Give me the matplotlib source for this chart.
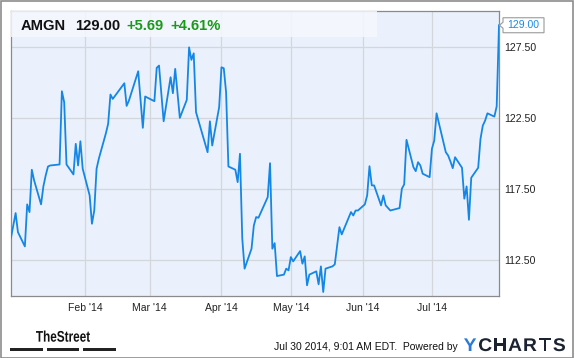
import matplotlib
matplotlib.use("Agg")
import matplotlib.pyplot as plt
import matplotlib.dates as mdates
from matplotlib.patches import Rectangle, Polygon, PathPatch
from matplotlib.textpath import TextPath
from matplotlib.font_manager import FontProperties
from matplotlib.transforms import Affine2D, IdentityTransform
import pandas as pd

plt.rcParams['font.family'] = ['Liberation Sans', 'DejaVu Sans']

# ---------------- data ----------------
dates = [
    "2013-12-31", "2014-01-02", "2014-01-03", "2014-01-06", "2014-01-07", "2014-01-08",
    "2014-01-09", "2014-01-10", "2014-01-13", "2014-01-14", "2014-01-15", "2014-01-16",
    "2014-01-17", "2014-01-21", "2014-01-22", "2014-01-23", "2014-01-24", "2014-01-27",
    "2014-01-28", "2014-01-29", "2014-01-30", "2014-01-31", "2014-02-03", "2014-02-04",
    "2014-02-05", "2014-02-06", "2014-02-07", "2014-02-10", "2014-02-11", "2014-02-12",
    "2014-02-13", "2014-02-18", "2014-02-19", "2014-02-20", "2014-02-24", "2014-02-26",
    "2014-02-27", "2014-03-03", "2014-03-04", "2014-03-05", "2014-03-07", "2014-03-10",
    "2014-03-11", "2014-03-12", "2014-03-14", "2014-03-17", "2014-03-18", "2014-03-19",
    "2014-03-20", "2014-03-21", "2014-03-26", "2014-03-27", "2014-03-28", "2014-03-31",
    "2014-04-01", "2014-04-02", "2014-04-03", "2014-04-04", "2014-04-07", "2014-04-08",
    "2014-04-09", "2014-04-10", "2014-04-11", "2014-04-14", "2014-04-15", "2014-04-16",
    "2014-04-17", "2014-04-21", "2014-04-22", "2014-04-23", "2014-04-24", "2014-04-25",
    "2014-04-28", "2014-04-29", "2014-04-30", "2014-05-01", "2014-05-02", "2014-05-05",
    "2014-05-06", "2014-05-07", "2014-05-08", "2014-05-09", "2014-05-12", "2014-05-13",
    "2014-05-14", "2014-05-15", "2014-05-16", "2014-05-19", "2014-05-20", "2014-05-21",
    "2014-05-22", "2014-05-23", "2014-05-27", "2014-05-28", "2014-05-29", "2014-05-30",
    "2014-06-02", "2014-06-03", "2014-06-04", "2014-06-05", "2014-06-06", "2014-06-09",
    "2014-06-10", "2014-06-11", "2014-06-13", "2014-06-17", "2014-06-18", "2014-06-19",
    "2014-06-20", "2014-06-23", "2014-06-24", "2014-06-25", "2014-06-26", "2014-06-27",
    "2014-06-30", "2014-07-01", "2014-07-02", "2014-07-03", "2014-07-07", "2014-07-08",
    "2014-07-09", "2014-07-10", "2014-07-11", "2014-07-14", "2014-07-15", "2014-07-16",
    "2014-07-17", "2014-07-18", "2014-07-21", "2014-07-22", "2014-07-23", "2014-07-24",
    "2014-07-25", "2014-07-28", "2014-07-29", "2014-07-30",
]
prices = [
    114.09, 115.82, 114.48, 113.48, 116.43, 115.89,
    118.86, 118.11, 116.43, 117.69, 118.46, 119.09,
    119.16, 119.23, 124.37, 123.60, 119.23, 118.53,
    120.68, 119.16, 120.86, 118.93, 117.06, 115.07,
    116.00, 118.93, 119.65, 121.40, 122.08, 124.14,
    123.83, 124.93, 123.34, 123.72, 125.77, 121.80,
    124.00, 123.67, 126.01, 126.17, 122.26, 125.35,
    124.23, 125.94, 122.50, 123.76, 127.45, 126.57,
    127.03, 122.90, 120.09, 122.26, 120.56, 123.25,
    126.05, 125.98, 124.30, 119.09, 118.86, 117.99,
    119.98, 114.02, 111.92, 113.32, 114.95, 115.54,
    115.49, 116.94, 119.32, 113.32, 113.71, 111.40,
    111.50, 111.92, 111.80, 112.73, 112.43, 113.15,
    112.27, 112.78, 110.75, 111.50, 111.73, 110.82,
    112.08, 110.28, 111.92, 112.08, 112.22, 113.55,
    114.83, 114.32, 115.89, 115.65, 116.00, 116.00,
    116.43, 117.06, 119.11, 117.76, 117.76, 116.36,
    117.06, 116.36, 116.00, 116.17, 117.53, 117.83,
    120.96, 119.04, 118.76, 119.39, 119.16, 118.58,
    118.34, 120.33, 120.91, 122.82, 120.09, 119.86,
    119.44, 118.97, 119.74, 119.00, 116.83, 117.69,
    115.35, 118.30, 119.00, 121.03, 121.96, 122.31,
    122.82, 122.59, 123.31, 129.00,
]
ticker = "AMGN"
last_price = "129.00"
change = "+5.69"
change_pct = "+4.61%"
y_ticks = [112.5, 117.5, 122.5, 127.5]
x_tick_dates = ["2014-02-01", "2014-03-01", "2014-04-01", "2014-05-01", "2014-06-01", "2014-07-01"]
x_tick_labels = ["Feb '14", "Mar '14", "Apr '14", "May '14", "Jun '14", "Jul '14"]
timestamp = "Jul 30 2014, 9:01 AM EDT.  Powered by"
brand_left = "TheStreet"
brand_right = "YCHARTS"

# ---------------- figure ----------------
W, H = 575, 358
fig = plt.figure(figsize=(W / 100, H / 100), dpi=100)
fig.patch.set_facecolor("white")

def fx(px):
    return px / W

def fy(py):
    return 1 - py / H

# outer border
fig.add_artist(Rectangle((fx(0.5), fy(357.5)), fx(572), 357 / H,
                         transform=fig.transFigure, fill=False,
                         edgecolor="#8c8c8c", linewidth=1.2))

L, R, T, B = 11, 499, 11, 296
ax = fig.add_axes([fx(L), fy(B), fx(R - L), (B - T) / H])
ax.set_facecolor("#eaf1fc")

x = pd.to_datetime(dates)
ax.plot(x, prices, color="#1487e6", linewidth=1.3, solid_joinstyle="round", zorder=3)

ax.set_xlim(x[0], x[-1])
ax.set_ylim(110, 130)

ax.set_yticks(y_ticks)
ax.set_yticklabels([f"{v:.2f}" for v in y_ticks])
ax.yaxis.tick_right()
ax.tick_params(axis="y", length=0, pad=4, labelsize=7.6, labelcolor="#222222")

ax.set_xticks(pd.to_datetime(x_tick_dates))
ax.set_xticklabels(x_tick_labels)
ax.tick_params(axis="x", length=0, pad=5, labelsize=7.5, labelcolor="#222222")

ax.grid(True, color="#d3d6da", linewidth=0.9, zorder=0)
ax.set_axisbelow(True)
for s in ax.spines.values():
    s.set_color("#8a8a8a")
    s.set_linewidth(0.9)

# header box
ax.add_patch(Rectangle((0, 1 - 25.5 / (B - T)), (377 - L) / (R - L), 25.5 / (B - T),
                       transform=ax.transAxes, facecolor="#f5f8fe", edgecolor="none",
                       alpha=0.85, zorder=4))
hy = fy(29.5)
fig.text(fx(20.5), hy, ticker, fontsize=10.6, fontweight="bold", color="#111111", va="baseline")
fig.text(fx(75), hy, last_price, fontsize=10.6, fontweight="bold", color="#111111", va="baseline")
fig.text(fx(126), hy, change, fontsize=10.6, fontweight="bold", color="#1a9a1a", va="baseline")
fig.text(fx(170.5), hy, change_pct, fontsize=10.6, fontweight="bold", color="#1a9a1a", va="baseline")

# price tag with arrow
fig.canvas.draw()
px_last, py_last = ax.transData.transform((mdates.date2num(x[-1]), prices[-1]))
ytop = H - py_last  # pixel from top
bx0, bx1 = 503, 544
poly = [(bx0, ytop - 7.5), (bx1, ytop - 7.5), (bx1, ytop + 7.5), (bx0, ytop + 7.5),
        (bx0, ytop + 3), (bx0 - 3.5, ytop), (bx0, ytop - 3)]
fig.add_artist(Polygon([(fx(a), fy(b)) for a, b in poly], closed=True,
                       transform=fig.transFigure, facecolor="white",
                       edgecolor="#9a9a9a", linewidth=0.8))
fig.text(fx(523.5), fy(ytop), last_price, fontsize=7.6, color="#1a8ae6",
         ha="center", va="center")

bold = FontProperties(family="Liberation Sans", weight="bold")

# footer: TheStreet logo (condensed bold, drawn as a path fitted to its box)
tp = TextPath((0, 0), brand_left, size=20, prop=bold)
ext = tp.get_extents()
bx_l, bx_r, by_top, by_bot = 36, 90, 330.5, 341.8
sx = (bx_r - bx_l) / ext.width
sy = (by_bot - by_top) / ext.height
tr = Affine2D().translate(-ext.x0, -ext.y0).scale(sx, sy).translate(bx_l, H - by_bot)
fig.add_artist(PathPatch(tr.transform_path(tp), transform=IdentityTransform(),
                         facecolor="#111111", edgecolor="none"))
for a, b in [(10, 43), (47, 79), (83, 116)]:
    fig.add_artist(Rectangle((fx(a), fy(350.5)), fx(b - a), 3 / H,
                             transform=fig.transFigure, facecolor="#222222",
                             edgecolor="none"))

# footer: timestamp
fig.text(fx(458), fy(349.5), timestamp, fontsize=7.5, color="#111111",
         ha="right", va="baseline")

# footer: YCHARTS wordmark, letters spaced to fill its box
yl, yr, ytop_px, ybot_px = 464, 565, 338, 351
paths = [TextPath((0, 0), ch, size=20, prop=bold) for ch in brand_right]
exts = [p.get_extents() for p in paths]
cap_h = max(e.height for e in exts)
scale = (ybot_px - ytop_px) / cap_h
wide = 1.05
widths = [e.width * scale * wide for e in exts]
gap = (yr - yl - sum(widths)) / (len(paths) - 1)
cur = yl
for ch, p, e, w in zip(brand_right, paths, exts, widths):
    t = Affine2D().translate(-e.x0, 0).scale(scale * wide, scale).translate(cur, H - ybot_px)
    fig.add_artist(PathPatch(t.transform_path(p), transform=IdentityTransform(),
                             facecolor="#2a7ad6" if ch == "Y" else "#1b2330",
                             edgecolor="none"))
    cur += w + gap

fig.savefig("out.png", dpi=100, facecolor="white")
